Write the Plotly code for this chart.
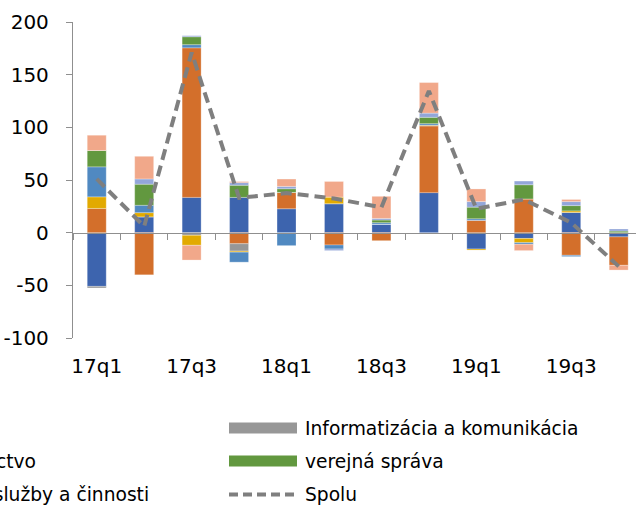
import plotly.graph_objects as go

# ---------------- data ----------------
quarters = ['17q1', '17q2', '17q3', '17q4', '18q1', '18q2',
            '18q3', '18q4', '19q1', '19q2', '19q3', '19q4']
label_quarters = quarters[::2]
y_tick_values = [-100, -50, 0, 50, 100, 150, 200]
y_tick_labels = ['-100', '-50', '0', '50', '100', '150', '200']

priemysel = [-51, 15, 33.5, 33.5, 22.7, 27.5, 8, 38, -15.5, -5.5, 19.2, -4]
obchod = [23, -40, 142, -10.5, 15.5, -11.7, -7.6, 63.5, 11.7, 32, -21.5, -27]
informatizacia = [-1.5, 0, -2.5, -7, 0, 0, 0, 0, 0, 0, 0, 0]
doprava = [11, 4, -9.5, -1, 0, 6.3, 0, 0.5, -1, -4, 1.5, 0]
stavebnictvo = [28.5, 7, 3, -9.5, -12.3, -3.8, 1.5, 1.5, 1.5, -1.5, -1.2, 0]
verejna_sprava = [15.5, 20, 7.5, 11.5, 3.5, 0, 2.5, 6, 11, 13.5, 5, 1.5]
financne = [0, 5, 1, 2.5, 2.2, -1.5, 1.5, 4, 5.3, 3.5, 3.8, 2]
sluzby = [14.5, 21.5, -14, 1, 7, 14.8, 21, 29, 12, -6, 2, -4.5]
spolu = [51, 6, 171, 33, 37.6, 32.5, 24, 134.5, 22.7, 31.5, 9.5, -32]

series_names = ['Priemysel', 'Obchod', 'Informatizácia a komunikácia',
                'Doprava', 'Stavebníctvo', 'verejná správa',
                'Finančné činnosti', 'Ostatné služby a činnosti']
series_values = [priemysel, obchod, informatizacia, doprava,
                 stavebnictvo, verejna_sprava, financne, sluzby]
series_colors = ['#3D64AE', '#D36F2B', '#979797', '#E2AA00',
                 '#5089C1', '#62983F', '#93A6D9', '#F1A88A']
line_name = 'Spolu'
line_color = '#7F7F7F'

# legend entries that are visible in the (cropped) picture: name -> (column, row)
legend_visible = {
    'Stavebníctvo': (1, 1),
    'Ostatné služby a činnosti': (1, 2),
    'Informatizácia a komunikácia': (2, 0),
    'verejná správa': (2, 1),
    'Spolu': (2, 2),
}

# ---------------- geometry ----------------
W, H = 636, 505
ML, MR, MT, MB = 73, 0, 22, 167
PW, PH = W - ML - MR, H - MT - MB
CAT_W = 47.45
x_range = [-0.5, -0.5 + PW / CAT_W]
axis_col = '#8F8F8F'
FONT = 'DejaVu Sans'
TICK_SIZE = 20

fig = go.Figure()
for name, vals, col in zip(series_names, series_values, series_colors):
    fig.add_trace(go.Bar(x=quarters, y=vals, name=name, marker_color=col,
                         marker_line=dict(color='rgba(255,255,255,0.45)', width=0.6),
                         xaxis='x', yaxis='y'))

fig.add_trace(go.Scatter(x=quarters, y=spolu, name=line_name, mode='lines',
                         line=dict(color=line_color, width=4, dash='11px,6px'),
                         xaxis='x2', yaxis='y'))

fig.update_layout(
    width=W, height=H,
    margin=dict(l=ML, r=MR, t=MT, b=MB, autoexpand=False),
    plot_bgcolor='white', paper_bgcolor='white',
    barmode='relative', bargap=0.6, showlegend=False,
    font=dict(family=FONT, size=TICK_SIZE, color='#000000'),
    xaxis=dict(type='category', range=x_range, anchor='free', position=1/3,
               showline=True, linecolor=axis_col, linewidth=1.3,
               ticks='outside', ticklen=6, tickcolor=axis_col, tickwidth=1.3,
               tickson='boundaries', showticklabels=False,
               showgrid=False, zeroline=False),
    xaxis2=dict(type='category', range=x_range, overlaying='x', anchor='y',
                side='bottom', showline=False, ticks='',
                tickmode='array', tickvals=label_quarters,
                ticklabelstandoff=14,
                showgrid=False, zeroline=False,
                tickfont=dict(family=FONT, size=TICK_SIZE, color='#000000')),
    yaxis=dict(range=[-100, 200], tickmode='array',
               tickvals=y_tick_values, ticktext=y_tick_labels,
               showline=True, linecolor=axis_col, linewidth=1.3,
               ticks='outside', ticklen=6, tickcolor=axis_col, tickwidth=1.3,
               ticklabelstandoff=13,
               showgrid=False, zeroline=False,
               tickfont=dict(family=FONT, size=TICK_SIZE, color='#000000')),
)

# ---------------- legend (cropped like the reference) ----------------
def px_x(px):
    return (px - ML) / PW

def px_y(py):
    return (H - MB - py) / PH

color_of = dict(zip(series_names, series_colors))
color_of[line_name] = line_color
col_text_x = [-478, -87, 304]
row_y = [428, 461, 494.5]
sym_w, sym_h, sym_gap = 68, 11, 7
for name, (c, r) in legend_visible.items():
    col = color_of[name]
    tx = col_text_x[c]
    cy = row_y[r]
    x0, x1 = tx - sym_gap - sym_w, tx - sym_gap
    if name == line_name:
        fig.add_shape(type='line', xref='paper', yref='paper',
                      x0=px_x(x0), x1=px_x(x1), y0=px_y(cy), y1=px_y(cy),
                      line=dict(color=col, width=4, dash='9px,5px'))
    else:
        fig.add_shape(type='rect', xref='paper', yref='paper',
                      x0=px_x(x0), x1=px_x(x1),
                      y0=px_y(cy - sym_h / 2), y1=px_y(cy + sym_h / 2),
                      fillcolor=col, line=dict(width=0))
    fig.add_annotation(text=name, xref='paper', yref='paper',
                       x=px_x(tx), y=px_y(cy), xanchor='left', yanchor='middle',
                       showarrow=False, borderpad=0,
                       font=dict(family=FONT, size=18.67, color='#000000'))

fig.write_html('out.html', config={'displayModeBar': False},
               post_script="document.body.style.margin='0';")
